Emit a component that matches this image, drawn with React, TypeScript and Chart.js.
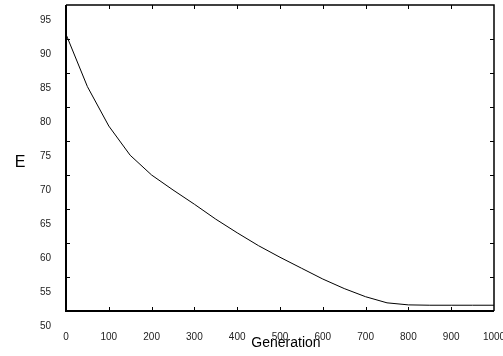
import React, { useEffect, useRef } from "react";
import { Chart, registerables } from "chart.js";

Chart.register(...registerables);

const generations = [0, 50, 100, 150, 200, 250, 300, 350, 400, 450, 500, 550, 600, 650, 700, 750, 800, 850, 900, 950, 1000];
const energy = [90.7, 83.0, 77.2, 72.9, 70.0, 67.8, 65.7, 63.5, 61.5, 59.6, 57.9, 56.3, 54.7, 53.3, 52.1, 51.2, 50.9, 50.85, 50.85, 50.85, 50.85];
const xTickStep = 100;
const yTickStep = 5;
const xTitle = "Generation";
const yTitle = "E";

const FONT = "'Liberation Sans', Arial, sans-serif";
const NARROW = "'Liberation Sans Narrow', 'Liberation Sans', Arial, sans-serif";

const framePlugin = {
  id: "frameTicks",
  afterDatasetsDraw(chart: any) {
    const { ctx, chartArea, scales } = chart;
    const { left, right, top, bottom } = chartArea;
    const tl = 4;
    ctx.save();
    ctx.strokeStyle = "#000";
    ctx.lineWidth = 1;
    const xs = scales.x;
    xs.ticks.forEach((t: any) => {
      const px = Math.round(xs.getPixelForValue(t.value)) + 0.5;
      if (px <= left + 1 || px >= right - 1) return;
      ctx.beginPath();
      ctx.moveTo(px, bottom);
      ctx.lineTo(px, bottom - tl);
      ctx.moveTo(px, top);
      ctx.lineTo(px, top + tl);
      ctx.stroke();
    });
    const ys = scales.y;
    ys.ticks.forEach((t: any) => {
      const py = Math.round(ys.getPixelForValue(t.value)) + 0.5;
      if (py <= top + 1 || py >= bottom - 1) return;
      ctx.beginPath();
      ctx.moveTo(left, py);
      ctx.lineTo(left + tl, py);
      ctx.moveTo(right, py);
      ctx.lineTo(right - tl, py);
      ctx.stroke();
    });
    ctx.lineWidth = 2;
    ctx.beginPath();
    ctx.moveTo(left, top);
    ctx.lineTo(left, bottom);
    ctx.lineTo(right, bottom);
    ctx.stroke();
    ctx.lineWidth = 1.5;
    ctx.beginPath();
    ctx.moveTo(left, top);
    ctx.lineTo(right, top);
    ctx.lineTo(right, bottom);
    ctx.stroke();

    ctx.fillStyle = "#000";
    ctx.font = `16px ${FONT}`;
    ctx.textAlign = "center";
    ctx.textBaseline = "middle";
    ctx.fillText(yTitle, 20, 163);
    ctx.font = `14px ${FONT}`;
    ctx.textBaseline = "alphabetic";
    ctx.fillText(xTitle, 286, 347);
    ctx.restore();
  },
};

const zeroPad = (s: any) => {
  s.paddingLeft = 0;
  s.paddingRight = 0;
  s.paddingTop = 0;
  s.paddingBottom = 0;
};

export default function App() {
  const ref = useRef<HTMLCanvasElement>(null);
  useEffect(() => {
    if (!ref.current) return;
    const chart = new Chart(ref.current, {
      type: "line",
      data: {
        datasets: [
          {
            data: generations.map((g, i) => ({ x: g, y: energy[i] })),
            borderColor: "#000",
            borderWidth: 1,
            pointRadius: 0,
            tension: 0,
            fill: false,
          },
        ],
      },
      options: {
        animation: false,
        responsive: false,
        maintainAspectRatio: false,
        layout: { padding: { top: 5, right: 9, left: 0, bottom: 0 } },
        plugins: { legend: { display: false }, tooltip: { enabled: false } },
        scales: {
          x: {
            type: "linear",
            min: 0,
            max: 1000,
            grid: { display: false },
            border: { display: false },
            ticks: {
              stepSize: xTickStep,
              autoSkip: false,
              maxRotation: 0,
              padding: 12,
              color: "#222",
              font: { family: NARROW, size: 10 },
              callback: (v: any) => String(v),
            },
            afterFit: (s: any) => {
              s.height = 45;
              zeroPad(s);
            },
          },
          y: {
            type: "linear",
            min: 50,
            max: 95,
            grid: { display: false },
            border: { display: false },
            ticks: {
              stepSize: yTickStep,
              autoSkip: false,
              padding: 7,
              labelOffset: 15,
              color: "#222",
              font: { family: FONT, size: 10 },
              callback: (v: any) => String(v),
            },
            afterFit: (s: any) => {
              s.width = 66;
              zeroPad(s);
            },
          },
        },
      },
      plugins: [framePlugin],
    });
    return () => chart.destroy();
  }, []);
  return (
    <div style={{ position: "absolute", left: 0, top: 0, width: 503, height: 356, background: "#fff" }}>
      <canvas ref={ref} width={503} height={356} />
    </div>
  );
}
